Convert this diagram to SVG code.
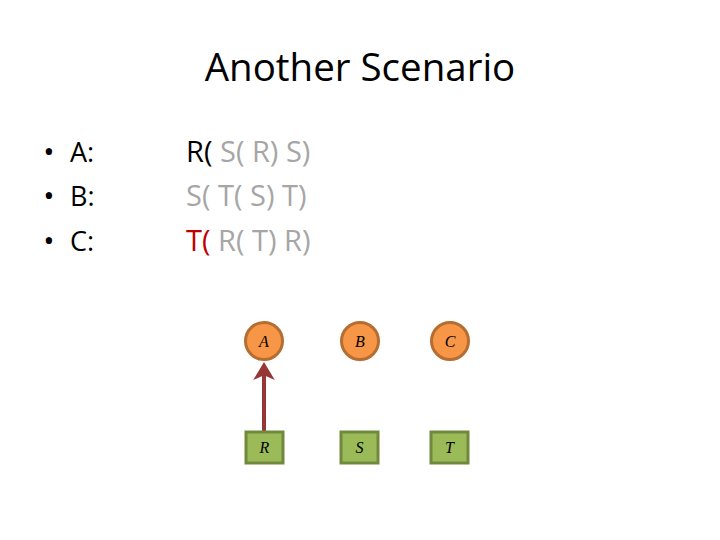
<svg xmlns="http://www.w3.org/2000/svg" width="720" height="540" viewBox="0 0 720 540">
<style>
.t{font-family:"Open Sans","Liberation Sans",sans-serif;}
.b{font-size:27px;fill:#000;}
.bu{font-size:30px;text-anchor:middle;}
.g{fill:#A6A6A6;}
.r{fill:#C00000;}
.k{fill:#000;}
.c{fill:#F79646;stroke:#B66D31;stroke-width:3;}
.s{fill:#9BBB59;stroke:#71893F;stroke-width:3;}
.l{font-family:"Liberation Serif",serif;font-style:italic;font-size:16px;text-anchor:middle;fill:#000;}
</style>
<defs>
<marker id="ah" markerWidth="6" markerHeight="6" refX="3.5" refY="3" orient="auto" markerUnits="strokeWidth">
<path d="M0,0.3 L4.5,3 L0,5.7 L1.2,3 Z" fill="#953735"/>
</marker>
</defs>
<rect width="720" height="540" fill="#fff"/>
<text class="t" x="360" y="81" font-size="38.5" text-anchor="middle" fill="#000">Another Scenario</text>
<g id="bullets" class="t b">
<text class="bu" x="49" y="162">•</text><text x="70" y="162">A:</text>
<text class="bu" x="49" y="206">•</text><text x="70" y="206">B:</text>
<text class="bu" x="49" y="251">•</text><text x="70" y="251">C:</text>
</g>
<g id="seqs" class="t" font-size="29">
<text x="186" y="162"><tspan class="k">R(</tspan><tspan class="g"> S( R) S)</tspan></text>
<text x="186" y="206" class="g">S( T( S) T)</text>
<text x="186" y="251"><tspan class="r">T(</tspan><tspan class="g"> R( T) R)</tspan></text>
</g>
<g id="connectors">
<line x1="264" y1="431" x2="264" y2="366" stroke="#953735" stroke-width="4" marker-end="url(#ah)"/>
</g>
<g id="A"><circle class="c" cx="264" cy="341" r="18.5"/><text class="l" x="264" y="347">A</text></g>
<g id="B"><circle class="c" cx="360" cy="341" r="18.5"/><text class="l" x="360" y="347">B</text></g>
<g id="C"><circle class="c" cx="450" cy="341" r="18.5"/><text class="l" x="450" y="347">C</text></g>
<g id="R"><rect class="s" x="246" y="432" width="37" height="31"/><text class="l" x="264.5" y="453">R</text></g>
<g id="S"><rect class="s" x="341" y="432" width="37" height="31"/><text class="l" x="359.5" y="453">S</text></g>
<g id="T"><rect class="s" x="431" y="432" width="37" height="31"/><text class="l" x="449.5" y="453">T</text></g>
</svg>
